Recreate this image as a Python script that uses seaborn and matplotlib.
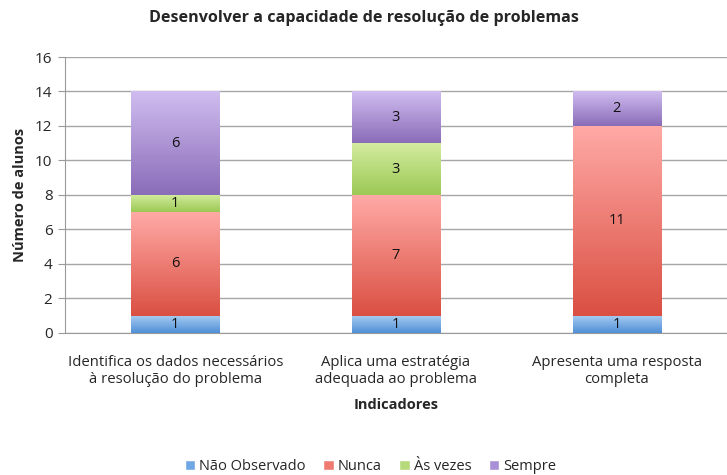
import numpy as np
import pandas as pd
from matplotlib import pyplot as plt
from matplotlib.colors import LinearSegmentedColormap
from matplotlib.patches import Patch
import seaborn as sns

categorias = ['Identifica os dados necessários\nà resolução do problema',
              'Aplica uma estratégia\nadequada ao problema',
              'Apresenta uma resposta\ncompleta']
series = ['Não Observado', 'Nunca', 'Às vezes', 'Sempre']
nao_observado = [1, 1, 1]
nunca = [6, 7, 11]
as_vezes = [1, 3, 0]
sempre = [6, 3, 2]

# cores (topo claro -> base escura)
cores = {
    'Não Observado': ('#a9cdf2', '#4f8fd6'),
    'Nunca': ('#ffaaa6', '#da4f42'),
    'Às vezes': ('#d3eb9f', '#9cc955'),
    'Sempre': ('#d0bdf0', '#8a6cb8'),
}
cores_legenda = {'Não Observado': '#6fa6e4', 'Nunca': '#ee7a72',
                 'Às vezes': '#b6d97a', 'Sempre': '#a98fd6'}


def main():
    sns.set_style('white')
    plt.rcParams['font.family'] = ['Open Sans', 'DejaVu Sans']

    df = pd.DataFrame({'Indicador': categorias, 'Não Observado': nao_observado,
                       'Nunca': nunca, 'Às vezes': as_vezes, 'Sempre': sempre})

    fig = plt.figure(figsize=(7.27, 4.75), dpi=100)
    ax = fig.add_axes([65 / 727, 0.299, 662 / 727, 0.581])

    base = np.zeros(len(categorias))
    for s in series:
        n0 = len(ax.patches)
        sns.barplot(x=df['Indicador'], y=df[s], bottom=base, ax=ax,
                    color=cores_legenda[s], width=0.4, linewidth=0, zorder=3)
        novos = ax.patches[n0:]
        cmap = LinearSegmentedColormap.from_list(s, [cores[s][1], cores[s][0]])
        grad = np.linspace(0, 1, 256).reshape(-1, 1)
        for p, v, b in zip(novos, df[s], base):
            if v == 0:
                continue
            x0, y0 = p.get_x(), p.get_y()
            w, h = p.get_width(), p.get_height()
            im = ax.imshow(grad, cmap=cmap, aspect='auto', origin='lower',
                           extent=[x0, x0 + w, y0, y0 + h], zorder=3.5)
            im.set_clip_path(p)
            ax.text(x0 + w / 2, y0 + h / 2, str(v), ha='center', va='center',
                    fontsize=10.5, color='#111111', zorder=5)
        base = base + df[s].values

    ax.set_xlim(-0.5, 2.5)
    ax.set_ylim(0, 16)
    ax.set_yticks(range(0, 17, 2))
    ax.yaxis.grid(True, color='#a6a6a6', linewidth=1, zorder=0)
    ax.set_axisbelow(True)
    for sp in ['top', 'right']:
        ax.spines[sp].set_visible(False)
    ax.spines['left'].set_color('#9a9a9a')
    ax.spines['bottom'].set_color('#9a9a9a')
    ax.tick_params(axis='y', left=True, length=5, color='#9a9a9a', labelsize=11, pad=4)
    ax.tick_params(axis='x', bottom=False, labelsize=10.7, pad=12)
    ax.set_xlabel('Indicadores', fontsize=10.5, fontweight='bold', labelpad=8)
    ax.set_ylabel('Número de alunos', fontsize=10.5, fontweight='bold', labelpad=6)
    fig.text(0.5, 0.962, 'Desenvolver a capacidade de resolução de problemas',
             ha='center', va='center', fontsize=11.6, fontweight='bold')

    handles = [Patch(facecolor=cores_legenda[s], label=s) for s in series]
    fig.legend(handles=handles, loc='lower center', ncol=4, frameon=False,
               fontsize=10.5, bbox_to_anchor=(0.51, -0.025), handlelength=0.7,
               handleheight=0.7, handletextpad=0.3, columnspacing=1.2)

    fig.savefig('out.png', dpi=100)


if __name__ == "__main__":
    main()
